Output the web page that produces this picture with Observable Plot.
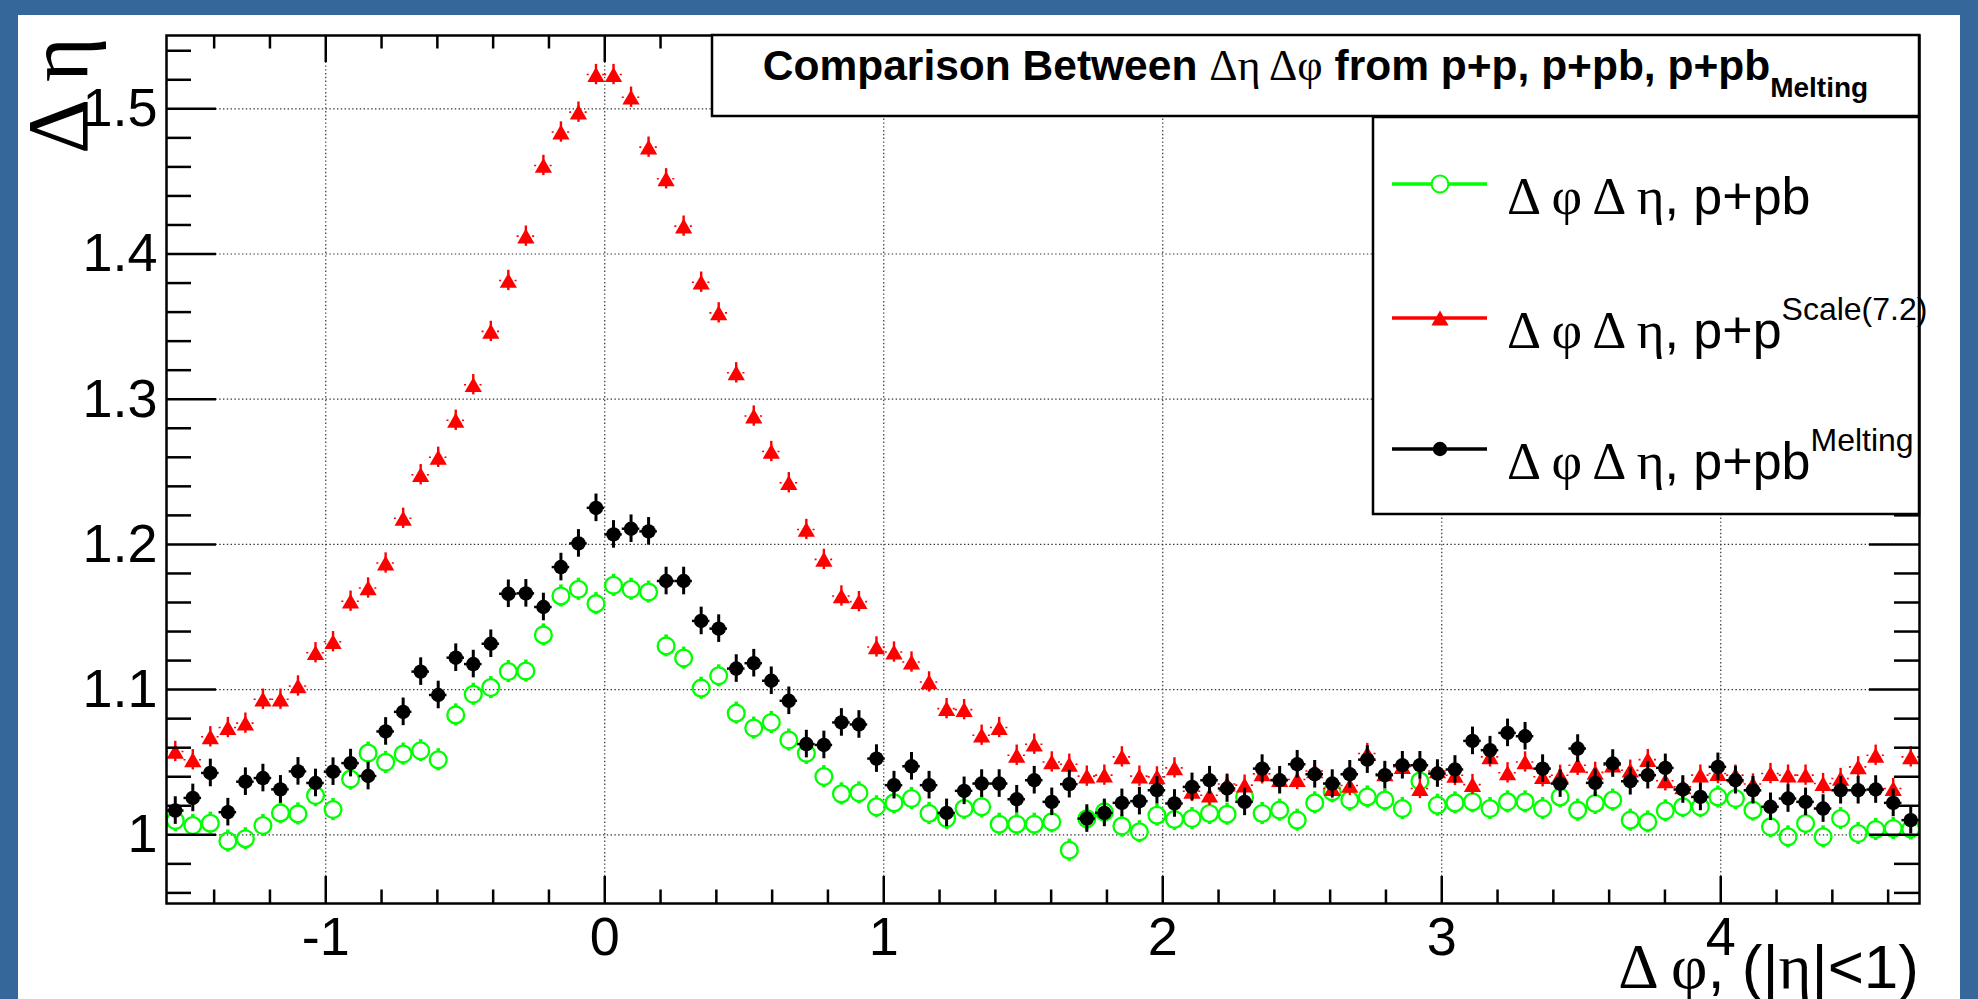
<!DOCTYPE html>
<html>
<head>
<meta charset="utf-8">
<script src="https://cdn.jsdelivr.net/npm/d3@7"></script>
<script src="https://cdn.jsdelivr.net/npm/@observablehq/plot@0.6"></script>
<style>
html, body { margin: 0; padding: 0; background: #35679a; }
#wrap { position: relative; width: 1978px; height: 999px; overflow: hidden; background: #35679a; }
#panel { position: absolute; left: 18px; top: 15px; width: 1942px; height: 984px; background: #ffffff; }
#chart { position: absolute; left: 0; top: 0; width: 1978px; height: 999px; }
</style>
</head>
<body>
<div id="wrap"><div id="panel"></div><div id="chart"></div></div>
<script>
// ---------------- data ----------------
const nBins = 100;
const phiMin = -Math.PI / 2;
const phiMax = 3 * Math.PI / 2;

// Δφ Δη, p+pb (green open circles)
const ppbValues = [
  1.0098, 1.0064, 1.0080, 0.9957, 0.9973, 1.0064, 1.0151, 1.0144, 1.0270, 1.0174,
  1.0384, 1.0563, 1.0499, 1.0556, 1.0579, 1.0517, 1.0826, 1.0968, 1.1014, 1.1124,
  1.1128, 1.1377, 1.1645, 1.1691, 1.1592, 1.1718, 1.1691, 1.1672, 1.1301, 1.1217,
  1.1010, 1.1095, 1.0838, 1.0735, 1.0774, 1.0653, 1.0561, 1.0401, 1.0282, 1.0289,
  1.0193, 1.0220, 1.0250, 1.0147, 1.0112, 1.0181, 1.0193, 1.0073, 1.0073, 1.0073,
  1.0089, 0.9894, 1.0110, 1.0158, 1.0060, 1.0021, 1.0135, 1.0106, 1.0112, 1.0147,
  1.0142, 1.0261, 1.0147, 1.0170, 1.0101, 1.0220, 1.0296, 1.0239, 1.0261, 1.0239,
  1.0181, 1.0370, 1.0204, 1.0220, 1.0227, 1.0181, 1.0227, 1.0227, 1.0181, 1.0261,
  1.0170, 1.0216, 1.0239, 1.0101, 1.0089, 1.0165, 1.0193, 1.0193, 1.0261, 1.0250,
  1.0170, 1.0055, 0.9986, 1.0078, 0.9986, 1.0112, 1.0009, 1.0037, 1.0044, 1.0040
];

// Δφ Δη, p+p scaled by 7.2 (red triangles)
const ppScaledValues = [
  1.0574, 1.0517, 1.0675, 1.0739, 1.0769, 1.0934, 1.0934, 1.1025, 1.1254, 1.1330,
  1.1609, 1.1700, 1.1872, 1.2180, 1.2480, 1.2600, 1.2855, 1.3100, 1.3467, 1.3818,
  1.4123, 1.4610, 1.4840, 1.4977, 1.5236, 1.5236, 1.5080, 1.4736, 1.4518, 1.4192,
  1.3806, 1.3595, 1.3182, 1.2884, 1.2640, 1.2425, 1.2103, 1.1897, 1.1645, 1.1606,
  1.1294, 1.1259, 1.1190, 1.1053, 1.0869, 1.0862, 1.0686, 1.0739, 1.0548, 1.0624,
  1.0502, 1.0486, 1.0404, 1.0411, 1.0537, 1.0404, 1.0399, 1.0461, 1.0300, 1.0273,
  1.0350, 1.0342, 1.0420, 1.0380, 1.0381, 1.0440, 1.0319, 1.0340, 1.0560, 1.0420,
  1.0470, 1.0319, 1.0440, 1.0410, 1.0346, 1.0537, 1.0427, 1.0502, 1.0400, 1.0410,
  1.0479, 1.0430, 1.0480, 1.0445, 1.0518, 1.0372, 1.0330, 1.0411, 1.0422, 1.0411,
  1.0350, 1.0422, 1.0411, 1.0411, 1.0353, 1.0388, 1.0468, 1.0548, 1.0319, 1.0537
];

// Δφ Δη, p+pb Melting (black filled circles)
const ppbMeltingValues = [
  1.0167, 1.0254, 1.0426, 1.0156, 1.0366, 1.0391, 1.0313, 1.0437, 1.0357, 1.0435,
  1.0494, 1.0405, 1.0712, 1.0847, 1.1124, 1.0963, 1.1220, 1.1176, 1.1316, 1.1660,
  1.1663, 1.1569, 1.1844, 1.2007, 1.2252, 1.2069, 1.2108, 1.2090, 1.1748, 1.1748,
  1.1473, 1.1420, 1.1145, 1.1182, 1.1061, 1.0923, 1.0625, 1.0619, 1.0774, 1.0760,
  1.0525, 1.0342, 1.0472, 1.0342, 1.0151, 1.0303, 1.0353, 1.0353, 1.0245, 1.0376,
  1.0227, 1.0349, 1.0112, 1.0151, 1.0220, 1.0232, 1.0307, 1.0216, 1.0330, 1.0376,
  1.0319, 1.0227, 1.0456, 1.0376, 1.0486, 1.0417, 1.0353, 1.0417, 1.0518, 1.0411,
  1.0479, 1.0479, 1.0422, 1.0450, 1.0647, 1.0583, 1.0702, 1.0679, 1.0456, 1.0353,
  1.0594, 1.0358, 1.0491, 1.0369, 1.0411, 1.0461, 1.0312, 1.0261, 1.0468, 1.0376,
  1.0307, 1.0193, 1.0250, 1.0227, 1.0181, 1.0307, 1.0307, 1.0312, 1.0220, 1.0101
];

// typical statistical errors per series
const errPpb = 0.0076;
const errPpScaled = 0.0070;
const errPpbMelting = 0.0095;

const xTickValues = [-1, 0, 1, 2, 3, 4];
const yTickValues = [1.0, 1.1, 1.2, 1.3, 1.4, 1.5];
const yDomain = [0.9527, 1.5505];

const titleParts = ["Comparison Between ", "Δη Δφ", " from p+p, p+pb, p+pb", "Melting"];
const legendNames = ["Δ φ Δ η, p+pb", "Δ φ Δ η, p+p", "Δ φ Δ η, p+pb"];
const legendSups = ["", "Scale(7.2)", "Melting"];
const xTitle = ["Δ φ", ", (|", "η", "|<1)"];
const yTitle = "Δ η";

// ---------------- layout / style ----------------
const W = 1978, H = 999;
const M = {left: 166, right: 59, top: 35, bottom: 96};
const innerW = W - M.left - M.right;
const innerH = H - M.top - M.bottom;
const SANS = "'Liberation Sans', Arial, Helvetica, sans-serif";
const SERIF = "'Liberation Serif', 'Times New Roman', serif";
const GREEN = "#00ff00", RED = "#ff0000", BLACK = "#000000";

const binW = (phiMax - phiMin) / nBins;
const centers = d3.range(nBins).map(i => phiMin + (i + 0.5) * binW);
const mk = (vals, err) => vals.map((v, i) => ({x: centers[i], y: v, e: err}));
const ppb = mk(ppbValues, errPpb);
const pp = mk(ppScaledValues, errPpScaled);
const melt = mk(ppbMeltingValues, errPpbMelting);

const xMinor = d3.range(-7, 24).map(k => k / 5).filter(v => Math.abs(v - Math.round(v)) > 1e-6);
const yMinor = d3.range(48, 78).map(k => k / 50).filter(v => Math.abs(v * 10 - Math.round(v * 10)) > 1e-6);

const gridStyle = {stroke: "#333", strokeWidth: 1.2, strokeDasharray: "1.4,2.4"};
const tickStyle = {stroke: BLACK, strokeWidth: 2.5};

const plot = Plot.plot({
  width: W,
  height: H,
  marginLeft: M.left,
  marginRight: M.right,
  marginTop: M.top,
  marginBottom: M.bottom,
  style: {background: "transparent", fontFamily: SANS},
  x: {domain: [phiMin, phiMax], axis: null},
  y: {domain: yDomain, axis: null},
  marks: [
    // grid
    Plot.ruleX(xTickValues, {x: d => d, ...gridStyle}),
    Plot.ruleY(yTickValues, {y: d => d, ...gridStyle}),
    // p+pb green open circles
    Plot.ruleX(ppb, {x: "x", y1: d => d.y + d.e * 0.72, y2: d => d.y + d.e, stroke: GREEN, strokeWidth: 3.5}),
    Plot.ruleX(ppb, {x: "x", y1: d => d.y - d.e, y2: d => d.y - d.e * 0.72, stroke: GREEN, strokeWidth: 3.5}),
    Plot.dot(ppb, {x: "x", y: "y", r: 8.4, stroke: GREEN, strokeWidth: 2.3, fill: "none"}),
    // p+p scaled red triangles
    Plot.ruleY(pp, {y: "y", x1: d => d.x - binW / 2, x2: d => d.x + binW / 2, stroke: RED, strokeWidth: 1.6,
      strokeDasharray: "2,13.5,2"}),
    Plot.ruleX(pp, {x: "x", y1: d => d.y - d.e, y2: d => d.y + d.e, stroke: RED, strokeWidth: 2.4}),
    Plot.dot(pp, {x: "x", y: "y", symbol: "triangle", r: 6.4, dy: 2.4, fill: RED, stroke: "none"}),
    // p+pb melting black circles
    Plot.ruleY(melt, {y: "y", x1: d => d.x - binW / 2, x2: d => d.x + binW / 2, stroke: BLACK, strokeWidth: 2.5}),
    Plot.ruleX(melt, {x: "x", y1: d => d.y - d.e, y2: d => d.y + d.e, stroke: BLACK, strokeWidth: 3}),
    Plot.dot(melt, {x: "x", y: "y", r: 7.2, fill: BLACK, stroke: "none"}),
    // ticks (inside frame, ROOT style)
    Plot.tickX(xTickValues, {x: d => d, insetTop: innerH - 27, ...tickStyle}),
    Plot.tickX(xTickValues, {x: d => d, insetBottom: innerH - 27, ...tickStyle}),
    Plot.tickX(xMinor, {x: d => d, insetTop: innerH - 13.5, ...tickStyle}),
    Plot.tickX(xMinor, {x: d => d, insetBottom: innerH - 13.5, ...tickStyle}),
    Plot.tickY(yTickValues, {y: d => d, insetRight: innerW - 50, ...tickStyle}),
    Plot.tickY(yTickValues, {y: d => d, insetLeft: innerW - 50, ...tickStyle}),
    Plot.tickY(yMinor, {y: d => d, insetRight: innerW - 25, ...tickStyle}),
    Plot.tickY(yMinor, {y: d => d, insetLeft: innerW - 25, ...tickStyle}),
    // tick labels
    Plot.axisX({ticks: xTickValues, tickSize: 0, tickPadding: 13, fontSize: 54, fontFamily: SANS,
      label: null, tickFormat: d => String(d), fill: BLACK}),
    Plot.axisY({ticks: yTickValues, tickSize: 0, tickPadding: 9, fontSize: 54, fontFamily: SANS,
      label: null, tickFormat: d => String(Math.round(d * 10) / 10), fill: BLACK}),
    Plot.frame({stroke: BLACK, strokeWidth: 2.5})
  ]
});

document.getElementById("chart").appendChild(plot);

// ---------------- overlays: titles, pave, legend ----------------
const svg = d3.select(plot);
const ov = svg.append("g").attr("class", "overlay");

function richText(parent, x, y, anchor, parts, transform) {
  const t = parent.append("text")
    .attr("x", x).attr("y", y)
    .attr("text-anchor", anchor)
    .attr("fill", BLACK)
    .style("white-space", "pre");
  if (transform) t.attr("transform", transform);
  for (const p of parts) {
    const ts = t.append("tspan").text(p.t)
      .attr("font-family", p.f)
      .attr("font-size", p.s)
      .attr("font-weight", p.w || "normal");
    if (p.dy) ts.attr("dy", p.dy);
  }
  return t;
}

// y-axis title (rotated)
richText(ov, 0, 0, "end", [{t: yTitle, f: SERIF, s: 86}], "translate(87,37) rotate(-90)");

// x-axis title
richText(ov, M.left + innerW, 988, "end", [
  {t: xTitle[0], f: SERIF, s: 63},
  {t: xTitle[1], f: SANS, s: 62},
  {t: xTitle[2], f: SERIF, s: 63},
  {t: xTitle[3], f: SANS, s: 62}
]);

// title pave
const paveX0 = 712, paveX1 = M.left + innerW, paveY0 = 35, paveY1 = 116;
ov.append("rect").attr("x", paveX0).attr("y", paveY0)
  .attr("width", paveX1 - paveX0).attr("height", paveY1 - paveY0)
  .attr("fill", "#fff").attr("stroke", BLACK).attr("stroke-width", 2.5);
richText(ov, (paveX0 + paveX1) / 2, 80, "middle", [
  {t: titleParts[0], f: SANS, s: 42.5, w: "bold"},
  {t: titleParts[1], f: SERIF, s: 44},
  {t: titleParts[2], f: SANS, s: 42.5, w: "bold"},
  {t: titleParts[3], f: SANS, s: 28, w: "bold", dy: 17}
]);

// legend
const legX0 = 1373, legX1 = M.left + innerW, legY0 = 117, legY1 = 514;
ov.append("rect").attr("x", legX0).attr("y", legY0)
  .attr("width", legX1 - legX0).attr("height", legY1 - legY0)
  .attr("fill", "#fff").attr("stroke", BLACK).attr("stroke-width", 2.5);
const legRows = [184, 318, 449];
const legColors = [GREEN, RED, BLACK];
legRows.forEach((ly, i) => {
  ov.append("line").attr("x1", 1392).attr("x2", 1487).attr("y1", ly).attr("y2", ly)
    .attr("stroke", legColors[i]).attr("stroke-width", 3.5);
  if (i === 0) {
    ov.append("circle").attr("cx", 1440).attr("cy", ly).attr("r", 8.4)
      .attr("fill", "#fff").attr("stroke", GREEN).attr("stroke-width", 2);
  } else if (i === 1) {
    ov.append("path").attr("d", d3.symbol(d3.symbolTriangle, 6.4 * 6.4 * Math.PI)())
      .attr("transform", `translate(1440,${ly + 2.4})`).attr("fill", RED);
  } else {
    ov.append("circle").attr("cx", 1440).attr("cy", ly).attr("r", 7.2).attr("fill", BLACK);
  }
  const parts = [
    {t: legendNames[i].slice(0, 7), f: SERIF, s: 53},
    {t: legendNames[i].slice(7), f: SANS, s: 52}
  ];
  if (legendSups[i]) parts.push({t: legendSups[i], f: SANS, s: 32, dy: -28});
  richText(ov, 1507, ly + 30, "start", parts);
});
</script>
</body>
</html>
